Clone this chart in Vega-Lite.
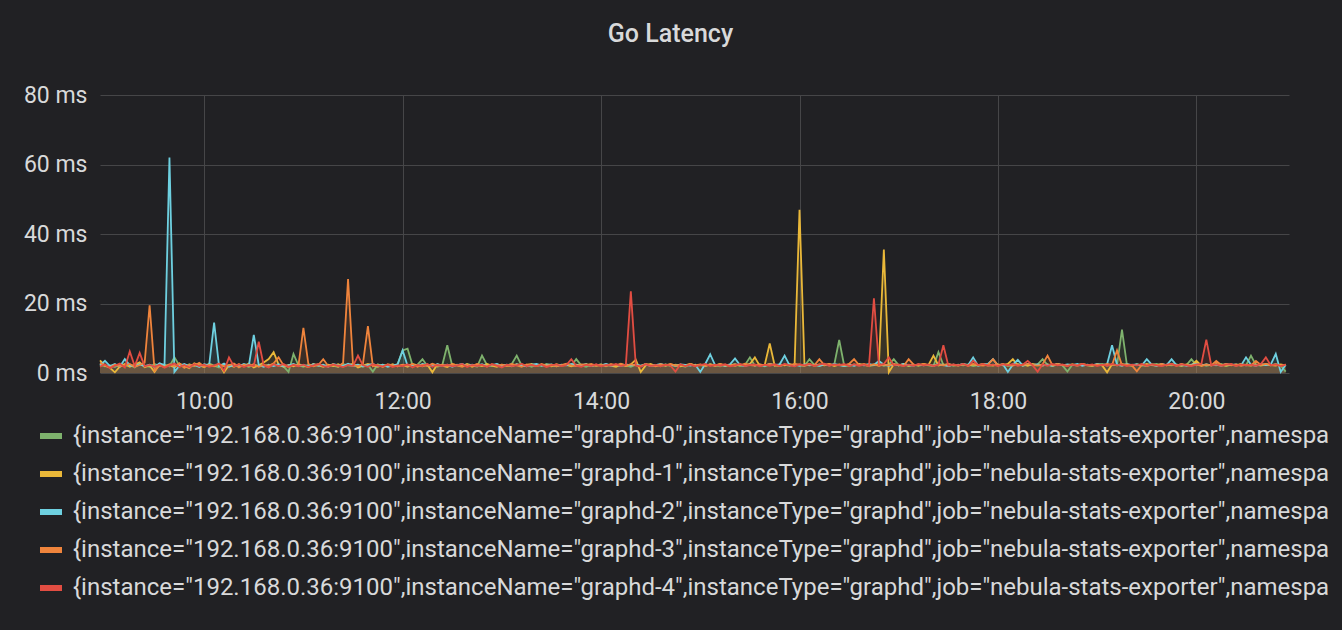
{
"$schema":"https://vega.github.io/schema/vega-lite/v6.json",
"width":1189,"height":278,
"autosize":{"type":"none"},
"padding":{"left":100,"top":95,"right":53,"bottom":257},
"background":"#212124",
"title":{"text":"Go Latency","color":"#d8d9da","font":"Roboto","fontSize":25,"fontWeight":500,"anchor":"middle","dx":-24,"offset":37},
"config":{"view":{"stroke":null},"axis":{"labelColor":"#d8d9da","labelFont":"Roboto","labelFontSize":23,"gridColor":"#464648","gridWidth":1,"domain":false,"ticks":false,"title":null}},
"data":{"values":[
{"m":537,"a":2.4,"b":3.6,"c":2.2,"d":2.9,"e":1.8},
{"m":540,"a":1.9,"b":2.1,"c":3.5,"d":2.2,"e":2.5},
{"m":543,"a":2.2,"b":1.5,"c":2.0,"d":1.6,"e":1.4},
{"m":546,"a":1.7,"b":0.2,"c":2.6,"d":2.4,"e":2.1},
{"m":549,"a":2.5,"b":1.9,"c":1.8,"d":1.9,"e":2.7},
{"m":552,"a":2.0,"b":2.6,"c":4.0,"d":2.1,"e":1.6},
{"m":555,"a":2.3,"b":1.8,"c":2.2,"d":2.6,"e":6.2},
{"m":558,"a":1.6,"b":2.4,"c":1.9,"d":1.8,"e":2.0},
{"m":561,"a":2.8,"b":3.1,"c":2.5,"d":2.3,"e":5.8},
{"m":564,"a":2.1,"b":1.7,"c":2.0,"d":3.0,"e":1.9},
{"m":567,"a":1.8,"b":2.2,"c":2.4,"d":19.5,"e":2.3},
{"m":570,"a":2.6,"b":0.3,"c":1.7,"d":0.6,"e":1.8},
{"m":573,"a":2.0,"b":2.5,"c":2.8,"d":2.2,"e":2.4},
{"m":576,"a":2.4,"b":1.9,"c":2.3,"d":1.7,"e":1.5},
{"m":579,"a":1.9,"b":2.3,"c":62,"d":2.5,"e":2.2},
{"m":582,"a":4.5,"b":1.6,"c":0.3,"d":2.0,"e":2.7},
{"m":585,"a":2.2,"b":2.7,"c":2.1,"d":2.8,"e":1.7},
{"m":588,"a":1.7,"b":2.0,"c":2.6,"d":1.5,"e":2.3},
{"m":591,"a":2.5,"b":1.4,"c":1.9,"d":2.4,"e":1.6},
{"m":594,"a":2.0,"b":2.8,"c":2.4,"d":2.1,"e":2.6},
{"m":597,"a":2.3,"b":2.2,"c":1.7,"d":2.9,"e":2.0},
{"m":600,"a":1.8,"b":1.7,"c":2.5,"d":1.8,"e":2.4},
{"m":603,"a":2.7,"b":2.4,"c":2.2,"d":2.3,"e":1.8},
{"m":606,"a":2.1,"b":1.9,"c":14.5,"d":2.0,"e":2.2},
{"m":609,"a":1.6,"b":2.6,"c":2.0,"d":2.6,"e":2.7},
{"m":612,"a":2.4,"b":0.2,"c":2.7,"d":1.9,"e":0.6},
{"m":615,"a":2.0,"b":2.3,"c":1.8,"d":2.2,"e":4.5},
{"m":618,"a":2.6,"b":1.8,"c":2.3,"d":2.7,"e":1.9},
{"m":621,"a":1.9,"b":2.5,"c":1.9,"d":1.6,"e":2.5},
{"m":624,"a":2.3,"b":2.0,"c":2.6,"d":2.4,"e":1.7},
{"m":627,"a":1.7,"b":2.7,"c":2.1,"d":2.0,"e":2.3},
{"m":630,"a":2.5,"b":1.6,"c":11,"d":2.5,"e":2.0},
{"m":633,"a":2.0,"b":2.2,"c":2.3,"d":1.8,"e":9.0},
{"m":636,"a":2.2,"b":3.0,"c":1.8,"d":2.3,"e":2.2},
{"m":639,"a":1.8,"b":4.0,"c":2.4,"d":2.1,"e":1.6},
{"m":642,"a":2.6,"b":6.0,"c":2.0,"d":2.8,"e":2.5},
{"m":645,"a":2.1,"b":2.4,"c":2.5,"d":4.5,"e":2.0},
{"m":648,"a":1.9,"b":1.8,"c":1.9,"d":2.2,"e":2.6},
{"m":651,"a":0.3,"b":2.3,"c":2.2,"d":1.7,"e":1.8},
{"m":654,"a":5.5,"b":1.9,"c":2.6,"d":2.4,"e":2.3},
{"m":657,"a":2.2,"b":2.5,"c":2.0,"d":2.1,"e":1.9},
{"m":660,"a":1.8,"b":2.1,"c":2.3,"d":13,"e":2.4},
{"m":663,"a":2.4,"b":1.7,"c":1.9,"d":2.6,"e":1.7},
{"m":666,"a":2.0,"b":2.6,"c":2.5,"d":1.9,"e":2.2},
{"m":669,"a":2.6,"b":2.2,"c":2.1,"d":2.3,"e":2.6},
{"m":672,"a":1.9,"b":1.8,"c":2.4,"d":4.0,"e":2.0},
{"m":675,"a":2.3,"b":2.4,"c":1.8,"d":2.0,"e":1.8},
{"m":678,"a":2.1,"b":2.0,"c":2.6,"d":2.5,"e":2.4},
{"m":681,"a":1.7,"b":2.5,"c":2.2,"d":1.8,"e":2.1},
{"m":684,"a":2.5,"b":1.9,"c":2.0,"d":2.9,"e":1.7},
{"m":687,"a":2.2,"b":2.3,"c":2.7,"d":27,"e":2.3},
{"m":690,"a":2.0,"b":2.7,"c":2.1,"d":2.4,"e":2.0},
{"m":693,"a":2.4,"b":1.6,"c":2.4,"d":1.9,"e":5.0},
{"m":696,"a":1.8,"b":2.1,"c":1.9,"d":2.6,"e":2.2},
{"m":699,"a":2.3,"b":2.6,"c":2.3,"d":13.5,"e":1.8},
{"m":702,"a":0.4,"b":2.2,"c":2.6,"d":2.0,"e":2.5},
{"m":705,"a":2.5,"b":1.8,"c":2.0,"d":2.3,"e":2.1},
{"m":708,"a":2.0,"b":2.4,"c":2.4,"d":1.7,"e":1.9},
{"m":711,"a":2.3,"b":2.0,"c":1.8,"d":2.5,"e":2.4},
{"m":714,"a":1.9,"b":2.5,"c":2.2,"d":2.2,"e":1.7},
{"m":717,"a":2.6,"b":1.9,"c":2.5,"d":1.9,"e":2.2},
{"m":720,"a":6.5,"b":2.3,"c":6.5,"d":2.4,"e":2.0},
{"m":723,"a":7.0,"b":1.8,"c":2.1,"d":2.1,"e":2.5},
{"m":726,"a":2.2,"b":2.6,"c":2.4,"d":2.6,"e":1.6},
{"m":729,"a":2.4,"b":2.2,"c":1.9,"d":1.8,"e":2.3},
{"m":732,"a":4.0,"b":1.9,"c":2.6,"d":2.4,"e":2.0},
{"m":735,"a":2.0,"b":2.4,"c":2.2,"d":2.0,"e":2.6},
{"m":738,"a":2.5,"b":0.2,"c":2.0,"d":2.7,"e":1.8},
{"m":741,"a":1.8,"b":2.5,"c":2.5,"d":2.1,"e":2.3},
{"m":744,"a":2.3,"b":2.1,"c":2.1,"d":2.4,"e":2.0},
{"m":747,"a":8.0,"b":1.7,"c":2.4,"d":1.9,"e":2.4},
{"m":750,"a":2.1,"b":2.6,"c":1.8,"d":2.5,"e":1.9},
{"m":753,"a":2.4,"b":2.2,"c":2.3,"d":2.2,"e":2.2},
{"m":756,"a":1.9,"b":2.0,"c":2.6,"d":1.8,"e":2.6},
{"m":759,"a":2.6,"b":2.5,"c":2.0,"d":2.4,"e":1.7},
{"m":762,"a":2.2,"b":1.8,"c":2.4,"d":2.0,"e":2.3},
{"m":765,"a":1.8,"b":2.3,"c":2.1,"d":2.6,"e":2.0},
{"m":768,"a":5.0,"b":2.0,"c":2.5,"d":2.2,"e":2.4},
{"m":771,"a":2.3,"b":2.6,"c":1.9,"d":1.9,"e":1.8},
{"m":774,"a":2.0,"b":2.1,"c":2.3,"d":2.5,"e":2.5},
{"m":777,"a":2.5,"b":1.8,"c":2.6,"d":2.1,"e":2.1},
{"m":780,"a":1.9,"b":2.4,"c":2.0,"d":2.4,"e":1.6},
{"m":783,"a":2.2,"b":2.2,"c":2.4,"d":2.0,"e":2.4},
{"m":786,"a":2.6,"b":1.9,"c":2.1,"d":2.6,"e":2.0},
{"m":789,"a":5.0,"b":2.5,"c":2.5,"d":2.2,"e":2.2},
{"m":792,"a":2.1,"b":2.1,"c":2.2,"d":1.8,"e":2.7},
{"m":795,"a":2.3,"b":2.3,"c":1.9,"d":2.5,"e":1.9},
{"m":798,"a":1.8,"b":2.6,"c":2.4,"d":2.3,"e":2.3},
{"m":801,"a":2.4,"b":2.0,"c":2.6,"d":2.0,"e":2.0},
{"m":804,"a":2.0,"b":2.4,"c":2.1,"d":2.6,"e":2.4},
{"m":807,"a":2.6,"b":2.2,"c":2.3,"d":2.1,"e":1.7},
{"m":810,"a":2.2,"b":1.9,"c":2.5,"d":2.4,"e":2.2},
{"m":813,"a":1.9,"b":2.5,"c":2.0,"d":1.9,"e":2.5},
{"m":816,"a":2.3,"b":2.1,"c":2.4,"d":2.3,"e":2.0},
{"m":819,"a":2.5,"b":2.3,"c":2.2,"d":2.7,"e":2.3},
{"m":822,"a":2.0,"b":1.9,"c":2.6,"d":2.2,"e":4.0},
{"m":825,"a":4.0,"b":2.4,"c":2.1,"d":2.0,"e":2.1},
{"m":828,"a":2.2,"b":2.1,"c":2.3,"d":2.5,"e":1.8},
{"m":831,"a":1.8,"b":2.6,"c":2.5,"d":2.3,"e":2.4},
{"m":834,"a":2.4,"b":2.0,"c":2.0,"d":2.6,"e":2.0},
{"m":837,"a":2.1,"b":2.3,"c":2.4,"d":2.1,"e":2.5},
{"m":840,"a":2.5,"b":2.2,"c":2.2,"d":2.4,"e":1.9},
{"m":843,"a":1.9,"b":2.5,"c":2.6,"d":2.0,"e":2.3},
{"m":846,"a":2.3,"b":2.1,"c":2.1,"d":2.6,"e":2.1},
{"m":849,"a":2.0,"b":1.8,"c":2.4,"d":2.2,"e":2.6},
{"m":852,"a":2.6,"b":2.4,"c":2.0,"d":2.7,"e":2.0},
{"m":855,"a":2.2,"b":2.0,"c":2.5,"d":2.1,"e":2.4},
{"m":858,"a":1.8,"b":2.5,"c":2.2,"d":2.5,"e":23.5},
{"m":861,"a":2.4,"b":3.8,"c":2.4,"d":2.2,"e":2.2},
{"m":864,"a":2.0,"b":0.3,"c":2.1,"d":2.0,"e":1.8},
{"m":867,"a":2.5,"b":2.2,"c":2.5,"d":2.6,"e":2.5},
{"m":870,"a":2.1,"b":2.6,"c":2.0,"d":2.3,"e":2.0},
{"m":873,"a":2.3,"b":2.0,"c":2.3,"d":1.9,"e":2.3},
{"m":876,"a":1.9,"b":2.4,"c":2.6,"d":2.5,"e":1.9},
{"m":879,"a":2.5,"b":2.1,"c":2.2,"d":2.2,"e":2.4},
{"m":882,"a":2.0,"b":2.5,"c":2.4,"d":2.6,"e":2.1},
{"m":885,"a":2.4,"b":2.2,"c":2.0,"d":2.1,"e":0.4},
{"m":888,"a":2.2,"b":1.9,"c":2.5,"d":2.4,"e":2.5},
{"m":891,"a":1.8,"b":2.3,"c":2.3,"d":2.0,"e":2.0},
{"m":894,"a":2.6,"b":2.6,"c":2.1,"d":2.6,"e":2.4},
{"m":897,"a":2.1,"b":2.0,"c":2.4,"d":2.2,"e":1.9},
{"m":900,"a":2.3,"b":2.4,"c":0.3,"d":2.5,"e":2.3},
{"m":903,"a":2.0,"b":2.1,"c":2.6,"d":2.1,"e":2.6},
{"m":906,"a":2.5,"b":2.5,"c":5.4,"d":2.4,"e":2.0},
{"m":909,"a":2.1,"b":2.2,"c":2.2,"d":2.0,"e":2.4},
{"m":912,"a":1.9,"b":2.6,"c":2.4,"d":2.6,"e":2.1},
{"m":915,"a":2.4,"b":2.0,"c":2.1,"d":2.3,"e":2.5},
{"m":918,"a":2.2,"b":2.4,"c":2.5,"d":2.1,"e":1.9},
{"m":921,"a":2.6,"b":2.1,"c":4.2,"d":2.5,"e":2.2},
{"m":924,"a":2.0,"b":2.5,"c":2.3,"d":2.2,"e":2.6},
{"m":927,"a":2.3,"b":2.2,"c":2.0,"d":2.7,"e":2.0},
{"m":930,"a":4.5,"b":2.6,"c":2.5,"d":2.3,"e":2.3},
{"m":933,"a":2.1,"b":4.5,"c":2.2,"d":2.1,"e":2.5},
{"m":936,"a":2.4,"b":2.0,"c":2.4,"d":2.5,"e":1.9},
{"m":939,"a":1.9,"b":2.4,"c":2.1,"d":2.2,"e":2.4},
{"m":942,"a":2.5,"b":8.5,"c":2.6,"d":2.6,"e":2.1},
{"m":945,"a":2.2,"b":2.1,"c":2.3,"d":2.3,"e":2.5},
{"m":948,"a":2.0,"b":2.5,"c":2.5,"d":2.0,"e":2.0},
{"m":951,"a":2.4,"b":2.2,"c":5.0,"d":2.5,"e":2.6},
{"m":954,"a":2.1,"b":2.6,"c":2.2,"d":2.2,"e":2.2},
{"m":957,"a":2.5,"b":2.1,"c":2.4,"d":2.6,"e":1.9},
{"m":960,"a":2.2,"b":47,"c":2.1,"d":2.4,"e":2.5},
{"m":963,"a":2.0,"b":2.3,"c":2.5,"d":2.1,"e":2.2},
{"m":966,"a":4.0,"b":2.6,"c":2.2,"d":2.5,"e":2.6},
{"m":969,"a":2.3,"b":2.1,"c":2.4,"d":2.2,"e":2.0},
{"m":972,"a":2.0,"b":2.5,"c":2.1,"d":4.0,"e":2.4},
{"m":975,"a":2.5,"b":2.2,"c":2.5,"d":2.3,"e":2.7},
{"m":978,"a":2.2,"b":2.6,"c":2.2,"d":2.6,"e":2.1},
{"m":981,"a":2.4,"b":2.0,"c":2.6,"d":2.2,"e":2.5},
{"m":984,"a":9.5,"b":2.4,"c":2.3,"d":2.5,"e":2.2},
{"m":987,"a":2.2,"b":2.1,"c":2.0,"d":2.2,"e":2.6},
{"m":990,"a":2.0,"b":2.5,"c":2.4,"d":2.6,"e":2.0},
{"m":993,"a":2.5,"b":2.2,"c":2.1,"d":4.0,"e":2.5},
{"m":996,"a":2.2,"b":2.6,"c":2.5,"d":2.3,"e":2.1},
{"m":999,"a":2.4,"b":2.3,"c":2.2,"d":2.6,"e":2.4},
{"m":1002,"a":2.0,"b":2.1,"c":2.6,"d":2.2,"e":2.0},
{"m":1005,"a":2.3,"b":2.5,"c":2.3,"d":2.5,"e":21.5},
{"m":1008,"a":2.6,"b":2.2,"c":3.5,"d":2.1,"e":2.3},
{"m":1011,"a":2.1,"b":35.5,"c":2.4,"d":2.4,"e":2.6},
{"m":1014,"a":2.4,"b":0.2,"c":2.1,"d":2.2,"e":4.5},
{"m":1017,"a":4.0,"b":2.5,"c":2.5,"d":2.6,"e":2.2},
{"m":1020,"a":2.2,"b":2.2,"c":2.2,"d":2.3,"e":2.5},
{"m":1023,"a":2.5,"b":2.6,"c":2.6,"d":2.1,"e":2.0},
{"m":1026,"a":2.0,"b":2.1,"c":2.3,"d":4.0,"e":2.4},
{"m":1029,"a":2.4,"b":2.4,"c":2.1,"d":2.4,"e":2.1},
{"m":1032,"a":2.1,"b":2.2,"c":2.5,"d":2.2,"e":2.6},
{"m":1035,"a":2.5,"b":2.6,"c":2.2,"d":2.6,"e":2.2},
{"m":1038,"a":2.2,"b":2.3,"c":2.4,"d":2.3,"e":2.5},
{"m":1041,"a":2.0,"b":5.0,"c":2.1,"d":2.1,"e":2.0},
{"m":1044,"a":6.0,"b":2.2,"c":2.6,"d":2.5,"e":2.4},
{"m":1047,"a":2.3,"b":2.5,"c":2.3,"d":2.2,"e":8.0},
{"m":1050,"a":2.6,"b":2.1,"c":2.0,"d":2.6,"e":2.1},
{"m":1053,"a":2.1,"b":2.4,"c":2.4,"d":2.3,"e":2.5},
{"m":1056,"a":2.4,"b":2.2,"c":2.2,"d":2.1,"e":2.2},
{"m":1059,"a":2.2,"b":2.6,"c":2.6,"d":2.5,"e":2.6},
{"m":1062,"a":2.5,"b":2.1,"c":2.3,"d":2.2,"e":2.0},
{"m":1065,"a":2.0,"b":2.5,"c":4.5,"d":2.6,"e":3.5},
{"m":1068,"a":2.3,"b":2.2,"c":2.1,"d":2.3,"e":2.3},
{"m":1071,"a":2.6,"b":2.6,"c":2.4,"d":2.1,"e":2.6},
{"m":1074,"a":2.1,"b":2.3,"c":2.6,"d":2.4,"e":2.1},
{"m":1077,"a":2.4,"b":2.1,"c":4.0,"d":4.0,"e":2.4},
{"m":1080,"a":2.2,"b":2.5,"c":2.2,"d":2.2,"e":2.0},
{"m":1083,"a":2.5,"b":2.2,"c":2.5,"d":2.6,"e":2.5},
{"m":1086,"a":2.0,"b":2.6,"c":0.3,"d":2.3,"e":2.2},
{"m":1089,"a":2.3,"b":4.0,"c":2.4,"d":2.1,"e":2.6},
{"m":1092,"a":2.6,"b":2.2,"c":3.8,"d":2.5,"e":2.1},
{"m":1095,"a":2.1,"b":2.5,"c":2.1,"d":2.2,"e":2.4},
{"m":1098,"a":2.4,"b":2.1,"c":2.6,"d":2.6,"e":3.5},
{"m":1101,"a":2.2,"b":2.6,"c":2.3,"d":2.3,"e":2.2},
{"m":1104,"a":2.5,"b":2.3,"c":2.5,"d":2.1,"e":0.4},
{"m":1107,"a":4.0,"b":2.1,"c":2.2,"d":2.5,"e":2.5},
{"m":1110,"a":2.3,"b":2.5,"c":2.4,"d":5.0,"e":2.1},
{"m":1113,"a":2.0,"b":2.2,"c":2.1,"d":2.2,"e":2.6},
{"m":1116,"a":2.5,"b":2.6,"c":2.6,"d":2.6,"e":2.2},
{"m":1119,"a":2.2,"b":2.3,"c":2.2,"d":2.3,"e":2.5},
{"m":1122,"a":0.4,"b":2.1,"c":2.5,"d":2.1,"e":2.0},
{"m":1125,"a":2.4,"b":2.5,"c":2.3,"d":2.5,"e":2.4},
{"m":1128,"a":2.1,"b":2.2,"c":2.6,"d":2.2,"e":2.1},
{"m":1131,"a":2.5,"b":2.6,"c":2.1,"d":2.6,"e":2.6},
{"m":1134,"a":2.2,"b":2.3,"c":2.4,"d":2.3,"e":2.2},
{"m":1137,"a":2.0,"b":2.1,"c":2.2,"d":2.1,"e":2.5},
{"m":1140,"a":2.4,"b":2.5,"c":2.6,"d":2.5,"e":2.0},
{"m":1143,"a":2.6,"b":2.2,"c":2.3,"d":2.2,"e":2.4},
{"m":1146,"a":2.1,"b":0.2,"c":2.5,"d":2.6,"e":2.1},
{"m":1149,"a":2.4,"b":2.5,"c":8.0,"d":2.3,"e":2.6},
{"m":1152,"a":2.2,"b":2.2,"c":2.4,"d":6.5,"e":2.2},
{"m":1155,"a":12.5,"b":2.6,"c":2.1,"d":2.2,"e":2.5},
{"m":1158,"a":2.3,"b":2.3,"c":2.6,"d":2.5,"e":2.0},
{"m":1161,"a":2.1,"b":2.1,"c":2.3,"d":2.2,"e":2.4},
{"m":1164,"a":2.5,"b":2.5,"c":2.5,"d":0.5,"e":2.2},
{"m":1167,"a":2.2,"b":2.2,"c":2.2,"d":2.4,"e":2.6},
{"m":1170,"a":2.0,"b":2.6,"c":4.0,"d":2.1,"e":2.1},
{"m":1173,"a":2.4,"b":2.3,"c":2.4,"d":2.5,"e":2.5},
{"m":1176,"a":2.6,"b":2.1,"c":2.1,"d":2.3,"e":2.2},
{"m":1179,"a":2.1,"b":2.5,"c":2.6,"d":2.6,"e":2.0},
{"m":1182,"a":2.4,"b":2.2,"c":2.3,"d":2.2,"e":2.4},
{"m":1185,"a":2.2,"b":2.6,"c":4.0,"d":2.5,"e":2.6},
{"m":1188,"a":2.5,"b":2.3,"c":2.2,"d":2.1,"e":2.1},
{"m":1191,"a":2.0,"b":2.1,"c":2.5,"d":2.6,"e":2.5},
{"m":1194,"a":2.3,"b":2.5,"c":2.1,"d":2.3,"e":2.2},
{"m":1197,"a":4.0,"b":2.2,"c":2.4,"d":2.2,"e":2.0},
{"m":1200,"a":2.2,"b":3.5,"c":2.6,"d":2.5,"e":2.4},
{"m":1203,"a":2.5,"b":2.1,"c":2.2,"d":2.1,"e":2.6},
{"m":1206,"a":2.1,"b":2.5,"c":2.5,"d":2.4,"e":9.6},
{"m":1209,"a":2.4,"b":2.2,"c":2.2,"d":2.2,"e":2.2},
{"m":1212,"a":2.2,"b":2.6,"c":2.4,"d":3.5,"e":2.5},
{"m":1215,"a":2.6,"b":2.3,"c":2.1,"d":2.3,"e":2.1},
{"m":1218,"a":2.0,"b":2.1,"c":2.6,"d":2.6,"e":2.4},
{"m":1221,"a":2.4,"b":2.5,"c":2.3,"d":2.2,"e":2.6},
{"m":1224,"a":2.1,"b":2.2,"c":2.5,"d":2.5,"e":2.0},
{"m":1227,"a":2.5,"b":2.6,"c":2.2,"d":2.1,"e":2.5},
{"m":1230,"a":2.2,"b":2.3,"c":4.5,"d":2.4,"e":2.2},
{"m":1233,"a":5.0,"b":2.1,"c":2.4,"d":2.2,"e":2.4},
{"m":1236,"a":2.3,"b":2.5,"c":2.1,"d":3.5,"e":2.1},
{"m":1239,"a":2.1,"b":2.2,"c":2.6,"d":2.3,"e":2.6},
{"m":1242,"a":2.4,"b":2.6,"c":2.3,"d":2.6,"e":4.5},
{"m":1245,"a":2.2,"b":2.3,"c":2.5,"d":2.2,"e":2.2},
{"m":1248,"a":2.6,"b":2.1,"c":5.5,"d":2.5,"e":2.5},
{"m":1251,"a":2.1,"b":2.5,"c":0.3,"d":2.1,"e":2.0},
{"m":1254,"a":0.4,"b":2.2,"c":2.4,"d":2.4,"e":2.4}
]},
"transform":[{"fold":["a","b","c","d","e"],"as":["k","v"]}],
"encoding":{
"x":{"field":"m","type":"quantitative","scale":{"domain":[537,1256],"nice":false,"zero":false},"axis":{"values":[600,720,840,960,1080,1200],"labelExpr":"floor(datum.value/60)+':00'","grid":true,"labelPadding":17,"labelFlush":false}},
"y":{"field":"v","type":"quantitative","stack":null,"scale":{"domain":[0,80],"nice":false},"axis":{"values":[0,20,40,60,80],"labelExpr":"datum.value+' ms'","labelPadding":13}},
"color":{"field":"k","type":"nominal","scale":{"domain":["a","b","c","d","e"],"range":["#7EB26D","#EAB839","#6ED0E0","#EF843C","#E24D42"]},
"legend":{"orient":"none","legendX":-63,"legendY":327,"direction":"vertical","title":null,"padding":0,"labelFont":"Roboto","labelFontSize":24,"labelColor":"#d8d9da","labelLimit":1400,"labelOffset":8,"symbolType":"stroke","symbolSize":484,"symbolStrokeWidth":6,"symbolOpacity":1,"rowPadding":12,
"labelExpr":"{'a':'{instance=\"192.168.0.36:9100\",instanceName=\"graphd-0\",instanceType=\"graphd\",job=\"nebula-stats-exporter\",namespa','b':'{instance=\"192.168.0.36:9100\",instanceName=\"graphd-1\",instanceType=\"graphd\",job=\"nebula-stats-exporter\",namespa','c':'{instance=\"192.168.0.36:9100\",instanceName=\"graphd-2\",instanceType=\"graphd\",job=\"nebula-stats-exporter\",namespa','d':'{instance=\"192.168.0.36:9100\",instanceName=\"graphd-3\",instanceType=\"graphd\",job=\"nebula-stats-exporter\",namespa','e':'{instance=\"192.168.0.36:9100\",instanceName=\"graphd-4\",instanceType=\"graphd\",job=\"nebula-stats-exporter\",namespa'}[datum.label]"}}
},
"layer":[
{"mark":{"type":"area","opacity":0.12}},
{"mark":{"type":"line","strokeWidth":1.8}}
]
}
